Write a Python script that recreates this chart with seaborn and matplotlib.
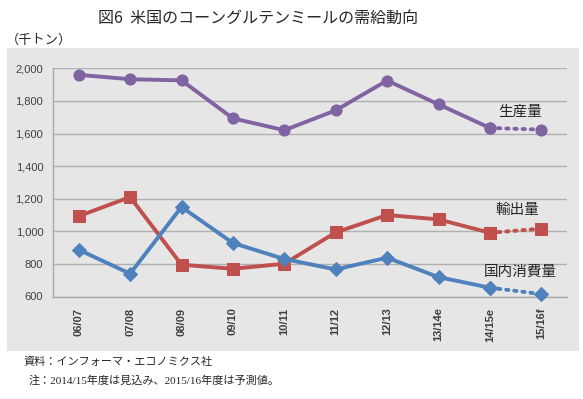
import numpy as np
import pandas as pd
import matplotlib.pyplot as plt
import seaborn as sns
from matplotlib.patches import Rectangle
from matplotlib.ticker import FixedLocator

# 年度と各系列の値（千トン）
years = ['06/07', '07/08', '08/09', '09/10', '10/11', '11/12', '12/13', '13/14e', '14/15e', '15/16f']
production = [1960, 1933, 1926, 1693, 1620, 1742, 1925, 1779, 1634, 1624]
exports = [1093, 1210, 795, 770, 801, 993, 1100, 1073, 991, 1016]
domestic = [887, 740, 1149, 928, 830, 766, 838, 719, 654, 615]

series_names = ['生産量', '輸出量', '国内消費量']
series_vals = [production, exports, domestic]
colors = ['#8064A2', '#C0504D', '#4F81BD']
markers = ['o', 's', 'D']
msizes = [8, 9, 7]

sns.set_style('white')
plt.rcParams['font.family'] = ['Noto Sans CJK JP', 'DejaVu Sans']

fig = plt.figure(figsize=(5.83, 3.99), dpi=100)

# 灰色の背景パネル
fig.patches.append(Rectangle((7 / 583, 1 - 351 / 399), 572 / 583, 303 / 399,
                             transform=fig.transFigure, facecolor='#e6e6e6',
                             edgecolor='none', zorder=-5))

ax = fig.add_axes([53 / 583, 1 - 296.5 / 399, 514 / 583, 228.2 / 399])
ax.set_facecolor('none')
ax.set_zorder(2)

for name, vals, c, m, ms in zip(series_names, series_vals, colors, markers, msizes):
    df = pd.DataFrame({'年度': years, '値': vals})
    solid = df.iloc[:9]
    dotted = df.iloc[8:]
    sns.lineplot(data=solid, x='年度', y='値', color=c, marker=m, markersize=ms,
                 markeredgecolor=c, linewidth=2.8, ax=ax, sort=False, clip_on=False, zorder=3)
    sns.lineplot(data=dotted, x='年度', y='値', color=c, marker=m, markersize=ms,
                 markeredgecolor=c, linewidth=2.8, linestyle=(0, (0.6, 1.5)),
                 dash_capstyle='round', ax=ax, sort=False, clip_on=False, zorder=3)

ax.set_xlim(-0.5, 9.5)
ax.set_ylim(600, 2000)
ax.set_yticks(np.arange(600, 2001, 200))
ax.set_yticklabels([f'{v:,}' for v in range(600, 2001, 200)], fontsize=8,
                   color='#404040', family=['Liberation Sans', 'DejaVu Sans'])
ax.set_xticks(range(len(years)))
ax.set_xticklabels(years, rotation=90, fontsize=8, fontweight='bold',
                   color='#404040', family=['Liberation Sans', 'DejaVu Sans'])
ax.xaxis.set_minor_locator(FixedLocator(np.arange(-0.5, 9.6, 1)))
ax.tick_params(axis='x', which='major', length=0, pad=8)
ax.tick_params(axis='x', which='minor', length=4, color='#a0a0a0', direction='out')
ax.tick_params(axis='y', length=4, color='#a0a0a0', direction='out', pad=3)
ax.grid(axis='y', color='#b0b0b0', linewidth=1)
ax.set_axisbelow(True)
for s in ['top', 'right']:
    ax.spines[s].set_visible(False)
for s in ['left', 'bottom']:
    ax.spines[s].set_color('#a8a8a8')
    ax.spines[s].set_linewidth(1)
ax.set_xlabel('')
ax.set_ylabel('')

# 系列ラベル
ax.text(8.59, 1734, '生産量', fontsize=10.5, ha='center', va='center')
ax.text(8.53, 1131, '輸出量', fontsize=10.5, ha='center', va='center')
ax.text(8.59, 750, '国内消費量', fontsize=10.5, ha='center', va='center')

fig.text(258 / 583, 1 - 18 / 399, '図6  米国のコーングルテンミールの需給動向', fontsize=11.5,
         ha='center', va='center')
fig.text(6 / 583, 1 - 40 / 399, '（千トン）', fontsize=9.5, ha='left', va='center')
fig.text(23 / 583, 1 - 362 / 399, '資料：インフォーマ・エコノミクス社', fontsize=8,
         ha='left', va='center')
fig.text(29 / 583, 1 - 381 / 399, '注：2014/15年度は見込み、2015/16年度は予測値。', fontsize=8,
         ha='left', va='center', family=['Liberation Serif', 'Noto Sans CJK JP'])

fig.savefig('out.png', dpi=100)
